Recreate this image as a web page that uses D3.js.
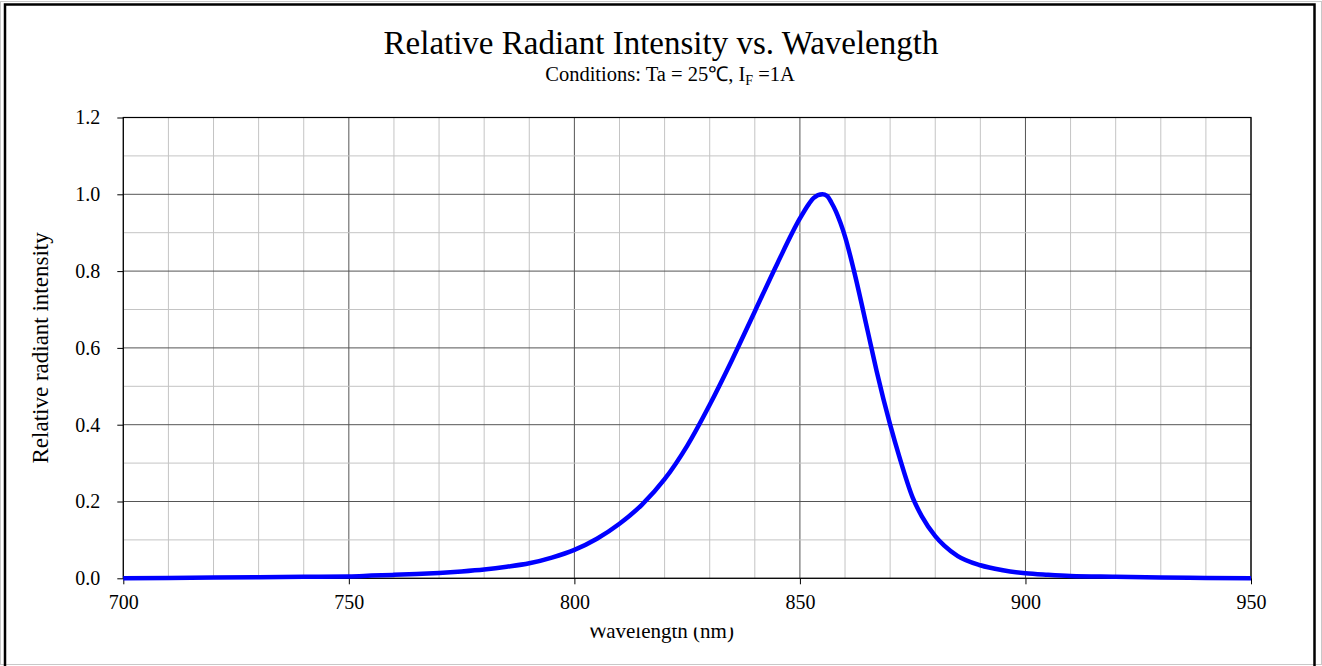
<!DOCTYPE html>
<html>
<head>
  <style>
  body { margin: 0; background: #fff; }
  #chart svg { display: block; font-family: "Liberation Serif", "Times New Roman", serif; }
  </style>
</head>
<body>
  <script src="https://d3js.org/d3.v7.min.js"></script>
  <div id="chart"></div>
  <script>
    // wavelength (nm) and relative radiant intensity
    const wavelength = [700, 710, 720, 730, 740, 750, 755, 760, 765, 770, 775, 780, 785, 790, 795,
      800, 805, 810, 815, 820, 825, 830, 835, 840, 845, 850, 852, 853, 855, 856, 857, 858, 859,
      860, 862, 865, 867, 870, 872, 875, 877, 880, 882, 885, 890, 895, 900, 905, 910, 920, 930, 940, 950];
    const intensity = [0.000, 0.001, 0.002, 0.003, 0.004, 0.005, 0.007, 0.009, 0.011, 0.014, 0.018, 0.023, 0.030, 0.039, 0.054,
      0.074, 0.103, 0.142, 0.192, 0.258, 0.345, 0.452, 0.570, 0.695, 0.820, 0.937, 0.975, 0.990, 1.000, 0.996, 0.978, 0.955, 0.925,
      0.890, 0.800, 0.645, 0.540, 0.400, 0.318, 0.210, 0.162, 0.110, 0.085, 0.058, 0.034, 0.021, 0.013, 0.009, 0.006, 0.004, 0.002, 0.001, 0.000];
    const xTicks = [700, 750, 800, 850, 900, 950];
    const yTicks = [0, 0.2, 0.4, 0.6, 0.8, 1.0, 1.2];
    const xMinor = d3.range(700, 951, 10);
    const yMinor = d3.range(0, 1.21, 0.1);

    const width = 1322, height = 666;
    const margin = {top: 117.5, left: 123.3, right: 71, bottom: 87.7};

    const svg = d3.select('#chart').append('svg')
      .attr('width', width)
      .attr('height', height);

    // outer frame
    svg.append('rect')
      .attr('x', 0.5).attr('y', 1.5)
      .attr('width', width - 1).attr('height', 663)
      .attr('fill', 'none').attr('stroke', '#c8c8c8');
    svg.append('path')
      .attr('d', `M5,${height + 5}V4.5H1314.5V${height + 5}`)
      .attr('fill', 'none').attr('stroke', '#000').attr('stroke-width', 2.5);

    const x = d3.scaleLinear().domain([700, 950]).range([margin.left, width - margin.right]);
    const y = d3.scaleLinear().domain([0, 1.2]).range([height - margin.bottom, margin.top]);

    const grid = svg.append('g').attr('class', 'grid');
    grid.selectAll('line.vminor')
      .data(xMinor)
      .enter().append('line')
      .attr('x1', d => x(d)).attr('x2', d => x(d))
      .attr('y1', y(0)).attr('y2', y(1.2))
      .attr('stroke', d => d % 50 === 0 ? '#555' : '#c4c4c4')
      .attr('stroke-width', 1);
    grid.selectAll('line.hminor')
      .data(yMinor)
      .enter().append('line')
      .attr('x1', x(700)).attr('x2', x(950))
      .attr('y1', d => y(d)).attr('y2', d => y(d))
      .attr('stroke', (d, i) => i % 2 === 0 ? '#555' : '#c4c4c4')
      .attr('stroke-width', 1);

    // plot border
    svg.append('rect')
      .attr('x', x(700)).attr('y', y(1.2))
      .attr('width', x(950) - x(700)).attr('height', y(0) - y(1.2))
      .attr('fill', 'none').attr('stroke', '#000').attr('stroke-width', 1.2);

    const xAxis = svg.append('g')
      .attr('transform', `translate(0,${y(0)})`)
      .call(d3.axisBottom(x).tickValues(xTicks).tickSize(6).tickPadding(11).tickFormat(d3.format('d')));
    const yAxis = svg.append('g')
      .attr('transform', `translate(${x(700)},0)`)
      .call(d3.axisLeft(y).tickValues(yTicks).tickSize(6).tickPadding(17).tickFormat(d3.format('.1f')));
    [xAxis, yAxis].forEach(a => {
      a.select('.domain').remove();
      a.selectAll('line').attr('stroke', '#000');
      a.selectAll('text')
        .style('font-family', '"Liberation Serif", serif')
        .style('font-size', '20px')
        .attr('fill', '#000');
    });

    // curve
    const line = d3.line()
      .x((d, i) => x(wavelength[i]))
      .y(d => y(d))
      .curve(d3.curveMonotoneX);
    svg.append('path')
      .datum(intensity)
      .attr('d', line)
      .attr('fill', 'none')
      .attr('stroke', '#0000ff')
      .attr('stroke-width', 4.5)
      .attr('stroke-linejoin', 'round');

    // titles
    svg.append('text')
      .attr('x', 661).attr('y', 54)
      .attr('text-anchor', 'middle')
      .style('font-size', '33px')
      .text('Relative Radiant Intensity vs. Wavelength');
    const sub = svg.append('text')
      .attr('x', 670).attr('y', 81)
      .attr('text-anchor', 'middle')
      .style('font-size', '20.5px');
    sub.append('tspan').text('Conditions: Ta = 25\u2103, I');
    sub.append('tspan').attr('dy', 4).style('font-size', '14px').text('F');
    sub.append('tspan').attr('dy', -4).text(' =1A');

    svg.append('text')
      .attr('transform', `translate(48,${(y(0) + y(1.2)) / 2}) rotate(-90)`)
      .attr('text-anchor', 'middle')
      .style('font-size', '23px')
      .text('Relative radiant intensity');

    // x label, top partly hidden as in the original
    svg.append('clipPath').attr('id', 'xlab-clip')
      .append('rect').attr('x', 0).attr('y', 627.5).attr('width', width).attr('height', 40);
    svg.append('text')
      .attr('x', 661).attr('y', 638)
      .attr('text-anchor', 'middle')
      .attr('clip-path', 'url(#xlab-clip)')
      .style('font-size', '21px')
      .text('Wavelength (nm)');
  </script>
</body>
</html>
